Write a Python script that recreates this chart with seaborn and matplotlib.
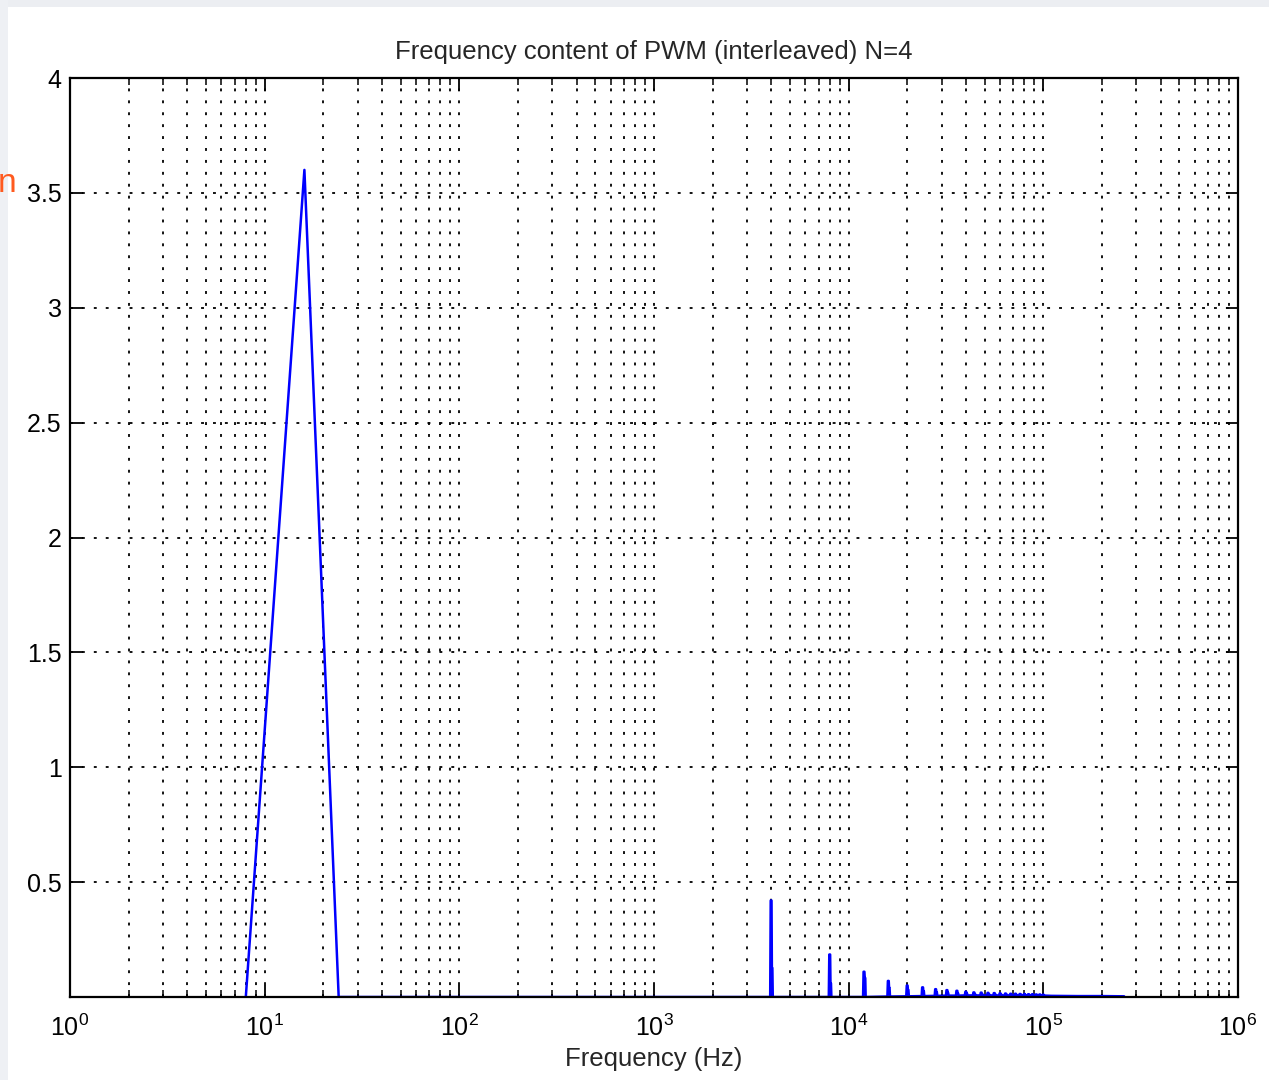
import numpy as np
import pandas as pd
import matplotlib
matplotlib.use("Agg")
import matplotlib.pyplot as plt
import matplotlib.ticker as mticker
from matplotlib.patches import Rectangle
import seaborn as sns

# main low-frequency lobe (Hz, magnitude)
lobe_hz = [8, 16, 24]
lobe_mag = [0.0, 3.6, 0.0]

# switching harmonics (multiples of 4 kHz)
harmonic_hz = [4000, 8000, 12000, 16000, 20000, 24000, 28000, 32000, 36000, 40000,
               44000, 48000, 52000, 56000, 60000, 64000, 68000, 72000, 76000, 80000,
               84000, 88000, 92000, 96000, 100000]
harmonic_mag = [0.42, 0.185, 0.11, 0.07, 0.05, 0.042, 0.034, 0.030, 0.027, 0.023,
                0.020, 0.019, 0.018, 0.017, 0.016, 0.015, 0.014, 0.014, 0.013, 0.013,
                0.012, 0.012, 0.011, 0.011, 0.010]
harmonic_side = [0.126, 0.06, 0.083, 0.04, 0.03, 0.025, 0.02, 0.018, 0.016, 0.015,
                 0.013, 0.012, 0.012, 0.011, 0.011, 0.010, 0.010, 0.009, 0.009, 0.009,
                 0.008, 0.008, 0.008, 0.007, 0.007]
harmonic_floor = [0.0, 0.0, 0.0, 0.002, 0.003, 0.004, 0.005, 0.006, 0.006, 0.007,
                  0.007, 0.007, 0.007, 0.007, 0.007, 0.007, 0.007, 0.007, 0.007, 0.007,
                  0.006, 0.006, 0.006, 0.006, 0.006]

# tail of the spectrum above 100 kHz
tail_hz = [110000, 150000, 200000, 260000]
tail_mag = [0.005, 0.004, 0.004, 0.003]

# build the spectrum polyline
spike_rel = [0.988, 0.994, 1.004, 1.008, 1.014, 1.019]
xs = list(lobe_hz)
ys = list(lobe_mag)
for f, h, s, fl in zip(harmonic_hz, harmonic_mag, harmonic_side, harmonic_floor):
    xs += [f * r for r in spike_rel]
    ys += [fl, h, h, s, s, fl]
xs += tail_hz
ys += tail_mag
df = pd.DataFrame({"Frequency": xs, "Magnitude": ys})

sns.set_style("white")
plt.rcParams["font.family"] = ["Liberation Sans", "DejaVu Sans"]
plt.rcParams["mathtext.default"] = "regular"

fig = plt.figure(figsize=(12.69, 10.8), dpi=100)
fig.patch.set_facecolor("white")
# slide remnants around the figure
fig.patches.append(Rectangle((0, 1 - 7 / 1080), 1, 7 / 1080, transform=fig.transFigure,
                             facecolor="#eceef2", edgecolor="none", zorder=0))
fig.patches.append(Rectangle((0, 0), 8 / 1269, 1, transform=fig.transFigure,
                             facecolor="#eef0f4", edgecolor="none", zorder=0))
fig.text(-0.002, 1 - 192 / 1080, "n", color="#ff5a1f", fontsize=24)

ax = fig.add_axes([70 / 1269, 1 - 997 / 1080, 1168 / 1269, 919 / 1080])
ax.set_xscale("log")
sns.lineplot(data=df, x="Frequency", y="Magnitude", sort=False, estimator=None,
             color="#0000ff", linewidth=1.8, ax=ax)

ax.set_xlim(1, 1e6)
ax.set_ylim(0, 4)
ax.xaxis.set_minor_locator(mticker.LogLocator(base=10, subs=np.arange(2, 10), numticks=100))
ax.xaxis.set_minor_formatter(mticker.NullFormatter())
ax.set_xticks([1, 10, 100, 1000, 1e4, 1e5, 1e6])
ax.set_xticklabels([r"$10^{%d}$" % i for i in range(7)])
ax.set_yticks([0.5, 1, 1.5, 2, 2.5, 3, 3.5, 4])
ax.set_yticklabels(["0.5", "1", "1.5", "2", "2.5", "3", "3.5", "4"])

grid_kw = dict(color="black", linewidth=1.3, linestyle=(0, (1.6, 5)))
ax.grid(True, which="both", axis="x", **grid_kw)
ax.grid(True, which="major", axis="y", **grid_kw)

for sp in ax.spines.values():
    sp.set_color("black")
    sp.set_linewidth(1.6)
ax.tick_params(which="both", direction="in", top=True, right=True, bottom=True, left=True,
               colors="black", labelsize=18)
ax.tick_params(which="major", length=9, width=1.3)
ax.tick_params(which="minor", length=5, width=1.1)
ax.tick_params(axis="x", which="major", pad=13)
ax.tick_params(axis="y", which="major", pad=6)

ax.set_title("Frequency content of PWM (interleaved) N=4", fontsize=18.5, pad=14)
ax.set_xlabel("Frequency (Hz)", fontsize=18.5, labelpad=4)
ax.set_ylabel("")

fig.savefig("out.png", dpi=100)
